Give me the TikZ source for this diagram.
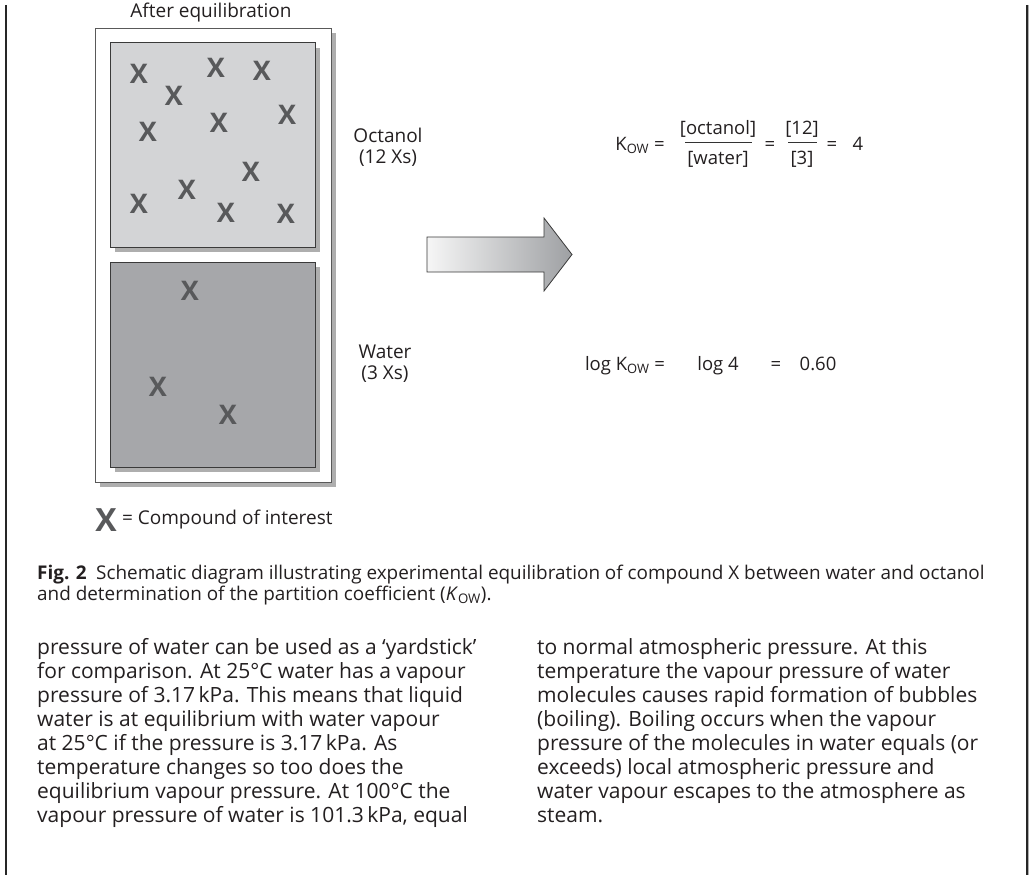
\documentclass[tikz,border=0pt]{standalone}
\usepackage{fontspec}
\setmainfont{Open Sans}
\usepackage{tikz}
\usetikzlibrary{positioning,shadows}
\definecolor{octFill}{HTML}{D3D4D6}
\definecolor{watFill}{HTML}{A6A7AA}
\definecolor{xGrey}{HTML}{58595B}
\definecolor{shadowGrey}{HTML}{AEAEAE}
\definecolor{boxLine}{HTML}{3A3A3A}
\definecolor{inkBlack}{HTML}{231F20}
\definecolor{arrowL}{HTML}{F6F6F6}
\definecolor{arrowR}{HTML}{9EA0A3}

\begin{document}
\begin{tikzpicture}[
        x=1pt, y=-1pt,
        every node/.style={text=inkBlack},
        label/.style={font=\fontsize{19}{21}\selectfont, align=center, inner sep=0pt},
        eq/.style={font=\fontsize{18.5}{21}\selectfont, inner sep=0pt, anchor=base},
        body/.style={font=\fontsize{21}{24}\selectfont, inner sep=0pt, anchor=base west},
        caption/.style={font=\fontsize{18.9}{21}\selectfont, inner sep=0pt, anchor=base west},
        xmark/.style={font=\fontsize{27}{27}\selectfont\bfseries, text=xGrey, inner sep=0pt},
        phase/.style={draw=boxLine, line width=1pt, minimum width=205pt, inner sep=0pt,
            drop shadow={shadow xshift=5pt, shadow yshift=-5pt, fill=shadowGrey, opacity=1}},
        vessel/.style={draw=black!65, line width=0.9pt, fill=white, minimum width=236pt, minimum height=454pt, inner sep=0pt,
            drop shadow={shadow xshift=5pt, shadow yshift=-5pt, fill=shadowGrey, opacity=1}}
    ]
        \useasboundingbox (0,0) rectangle (1030,875);

        % --- page rules ---
        \draw[line width=2.5pt, black!85] (6,5) -- (6,875);
        \draw[line width=1.4pt, shadowGrey] (1028.5,5) -- (1028.5,875);
        \draw[line width=2pt, black!85] (1026.5,5) -- (1026.5,875);

        % --- vessel with the two phases ---
        \node[label] (title) at (211,13) {After equilibration};
        \node[vessel] (vessel) at (213,255) {};
        \node[phase, fill=octFill, minimum height=204pt] (oct) at (212.5,145) {};
        \node[phase, fill=watFill, minimum height=205pt] (wat) at (212.5,364.5) {};

        % --- compound in each phase ---
        \foreach \px/\py [count=\i] in {139/74, 174/96, 216/68, 262/71, 148/132, 219/123,
                287/115, 251/172, 187/190, 139/204, 226/213, 286/214}
            \node[xmark] (ox\i) at (\px,\py) {X};
        \foreach \px/\py [count=\i] in {190/291, 158/387, 228/415}
            \node[xmark] (wx\i) at (\px,\py) {X};

        \node[label] (octlab) at (388,147) {Octanol\\(12 Xs)};
        \node[label] (watlab) at (385,364) {Water\\(3 Xs)};

        % --- legend ---
        \node[xmark, font=\fontsize{32}{32}\selectfont\bfseries] (legx) at (106,520) {X};
        \node[label, right=5pt of legx] (legtxt) {= Compound of interest};

        % --- arrow ---
        \draw[boxLine, line width=0.8pt, left color=arrowL, right color=arrowR]
            (427,237) -- (544,237) -- (544,218) -- (572,254.5) -- (544,291) -- (544,272) -- (427,272) -- cycle;

        % --- partition coefficient ---
        \node[eq] (kow) at (640,150) {K\textsubscript{OW} =};
        \node[eq] (num1) at (718,134) {[octanol]};
        \node[eq] (den1) at (718,164) {[water]};
        \draw[line width=0.7pt, black!80] (685,142) -- (752,142);
        \node[eq] (eqa) at (770,150) {=};
        \node[eq] (num2) at (802,134) {[12]};
        \node[eq] (den2) at (802,164) {[3]};
        \draw[line width=0.7pt, black!80] (788,142) -- (817,142);
        \node[eq] (eqb) at (832,150) {=};
        \node[eq] (four) at (858,150) {4};

        \node[eq] (logk) at (625,370) {log K\textsubscript{OW} =};
        \node[eq] (log4) at (718,370) {log 4};
        \node[eq] (eqc) at (776,370) {=};
        \node[eq] (res) at (818,370) {0.60};

        % --- caption ---
        \node[caption] (cap1) at (37,579) {\textbf{Fig. 2}\enspace Schematic diagram illustrating experimental equilibration of compound X between water and octanol};
        \node[caption] (cap2) at (37,600) {and determination of the partition coefficient (\textit{K}\textsubscript{OW}).};

        % --- running text, two columns ---
        \foreach \ln [count=\i] in {
                {pressure of water can be used as a ‘yardstick’},
                {for comparison. At 25°C water has a vapour},
                {pressure of 3.17\,kPa. This means that liquid},
                {water is at equilibrium with water vapour},
                {at 25°C if the pressure is 3.17\,kPa. As},
                {temperature changes so too does the},
                {equilibrium vapour pressure. At 100°C the},
                {vapour pressure of water is 101.3\,kPa, equal}}
            \node[body] (lc\i) at (37,630+24*\i) {\ln};
        \foreach \ln [count=\i] in {
                {to normal atmospheric pressure. At this},
                {temperature the vapour pressure of water},
                {molecules causes rapid formation of bubbles},
                {(boiling). Boiling occurs when the vapour},
                {pressure of the molecules in water equals (or},
                {exceeds) local atmospheric pressure and},
                {water vapour escapes to the atmosphere as},
                {steam.}}
            \node[body] (rc\i) at (537,630+24*\i) {\ln};
\end{tikzpicture}
\end{document}
